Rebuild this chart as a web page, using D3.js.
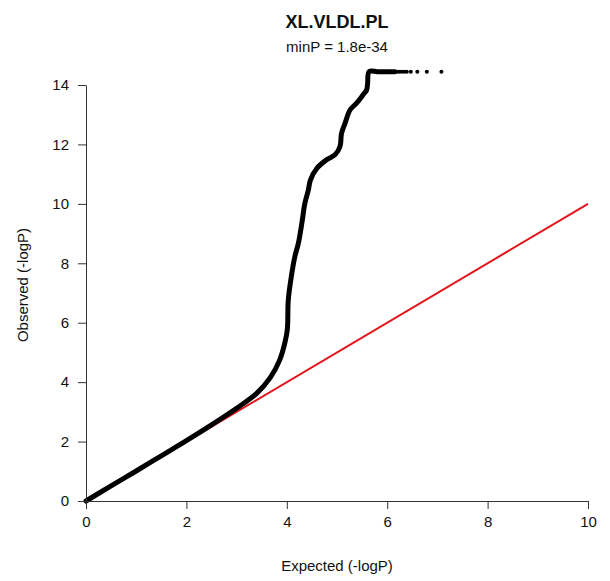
<!DOCTYPE html>
<html>
<head>
<meta charset="utf-8">
<script src="https://cdn.jsdelivr.net/npm/d3@7"></script>
<style>
  html, body { margin: 0; padding: 0; background: #fff; }
  svg { display: block; font-family: "Liberation Sans", Arial, sans-serif; }
</style>
</head>
<body>
<svg id="chart" width="610" height="581"></svg>
<script>
// ---- data ----
const titleText = "XL.VLDL.PL";
const subtitleText = "minP = 1.8e-34";
const xTitle = "Expected (-logP)";
const yTitle = "Observed (-logP)";

const xTicks = [0, 2, 4, 6, 8, 10];
const yTicks = [0, 2, 4, 6, 8, 10, 12, 14];

// dense band of points (expected, observed)
const bandExpected = [0.00, 0.50, 1.00, 1.50, 2.00, 2.50, 3.00, 3.40, 3.67, 3.86, 3.96, 4.01, 4.03, 4.10, 4.16, 4.23, 4.30, 4.36, 4.43, 4.47, 4.60, 4.79, 4.96, 5.06, 5.09, 5.16, 5.26, 5.39, 5.52, 5.59, 5.61, 5.64, 5.80, 6.00, 6.15];
const bandObserved = [0.00, 0.51, 1.01, 1.52, 2.03, 2.56, 3.12, 3.62, 4.15, 4.75, 5.31, 5.76, 6.77, 7.66, 8.22, 8.67, 9.35, 10.02, 10.47, 10.80, 11.20, 11.48, 11.65, 11.93, 12.37, 12.71, 13.16, 13.39, 13.67, 13.83, 14.05, 14.45, 14.45, 14.45, 14.45];

// sparse tail points at the top
const tailExpected = [6.19, 6.24, 6.29, 6.34, 6.39, 6.47, 6.60, 6.79, 7.08];
const tailObserved = [14.45, 14.45, 14.45, 14.45, 14.45, 14.45, 14.45, 14.45, 14.45];

// null line y = x
const diagExpected = [0, 10];
const diagObserved = [0, 10];

// ---- drawing ----
const svg = d3.select("#chart");
const x = d3.scaleLinear().domain([0, 10]).range([86, 588]);
const y = d3.scaleLinear().domain([0, 14]).range([501, 85]);
const textColor = "#111";

// red diagonal (under the points)
const diag = diagExpected.map((e, i) => [e, diagObserved[i]]);
svg.append("path")
  .datum(diag)
  .attr("fill", "none")
  .attr("stroke", "#e3141b")
  .attr("stroke-width", 2)
  .attr("d", d3.line().x(d => x(d[0])).y(d => y(d[1])));

// dense band
const band = bandExpected.map((e, i) => [e, bandObserved[i]]);
svg.append("path")
  .datum(band)
  .attr("fill", "none")
  .attr("stroke", "#000")
  .attr("stroke-width", 5)
  .attr("stroke-linecap", "round")
  .attr("stroke-linejoin", "round")
  .attr("d", d3.line().curve(d3.curveCatmullRom.alpha(0.5)).x(d => x(d[0])).y(d => y(d[1])));

// tail dots
const tail = tailExpected.map((e, i) => [e, tailObserved[i]]);
svg.selectAll("circle.tail")
  .data(tail)
  .join("circle")
  .attr("class", "tail")
  .attr("cx", d => x(d[0]))
  .attr("cy", d => y(d[1]))
  .attr("r", 2)
  .attr("fill", "#000");

// axes
const xAxis = d3.axisBottom(x).tickValues(xTicks).tickFormat(d3.format("d"))
  .tickSize(8).tickSizeOuter(0).tickPadding(7);
const yAxis = d3.axisLeft(y).tickValues(yTicks).tickFormat(d3.format("d"))
  .tickSize(8).tickSizeOuter(0).tickPadding(9);

const gx = svg.append("g").attr("transform", "translate(0,501)").call(xAxis);
const gy = svg.append("g").attr("transform", "translate(86,0)").call(yAxis);
[gx, gy].forEach(g => {
  g.selectAll("path, line").attr("stroke", "#333").attr("stroke-width", 1);
  g.selectAll("text").attr("fill", textColor)
    .style("font-family", "'Liberation Sans', Arial, sans-serif")
    .style("font-size", "15px");
});

// titles
svg.append("text")
  .attr("x", 337).attr("y", 28)
  .attr("text-anchor", "middle")
  .attr("fill", textColor)
  .style("font-size", "18px").style("font-weight", "bold")
  .text(titleText);

svg.append("text")
  .attr("x", 337).attr("y", 52)
  .attr("text-anchor", "middle")
  .attr("fill", textColor)
  .style("font-size", "15px")
  .text(subtitleText);

svg.append("text")
  .attr("x", 337).attr("y", 571)
  .attr("text-anchor", "middle")
  .attr("fill", textColor)
  .style("font-size", "15px")
  .text(xTitle);

svg.append("text")
  .attr("transform", "translate(28,285) rotate(-90)")
  .attr("text-anchor", "middle")
  .attr("fill", textColor)
  .style("font-size", "15px")
  .text(yTitle);
</script>
</body>
</html>
